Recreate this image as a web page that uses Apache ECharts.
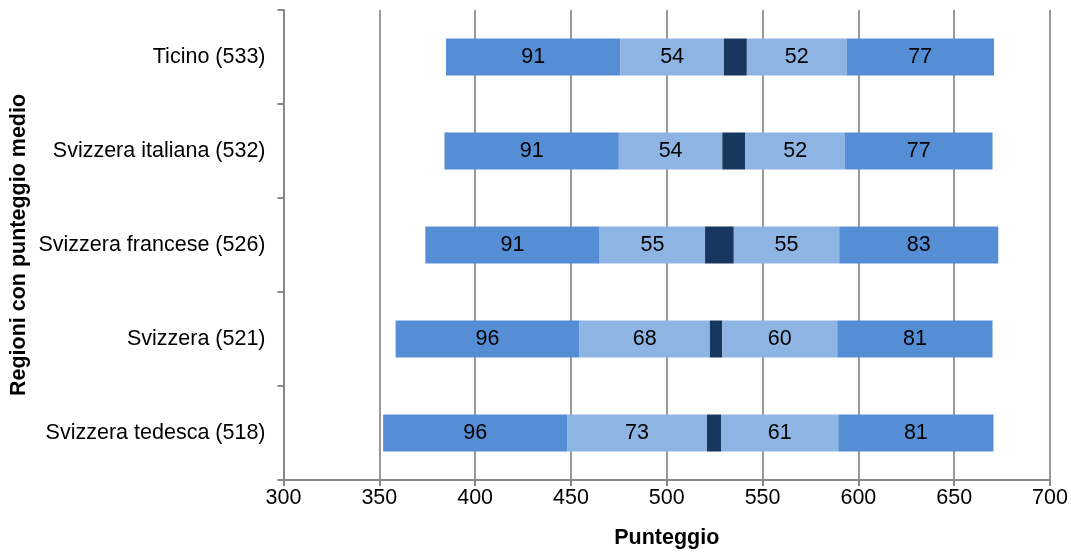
<!DOCTYPE html>
<html>
<head>
<meta charset="utf-8">
<script src="https://cdn.jsdelivr.net/npm/echarts@6/dist/echarts.min.js"></script>
<style>html,body{margin:0;padding:0;background:#fff;}#c{width:1071px;height:552px;}</style>
</head>
<body>
<div id="c"></div>
<script>
const categories = ["Ticino (533)", "Svizzera italiana (532)", "Svizzera francese (526)", "Svizzera (521)", "Svizzera tedesca (518)"];
const offsetVals = [384.8, 384, 374, 358.5, 352];
const lowOuter   = [91, 91, 91, 96, 96];
const lowInner   = [54, 54, 55, 68, 73];
const ciBand     = [12, 12, 15, 6.5, 7.5];
const highInner  = [52, 52, 55, 60, 61];
const highOuter  = [77, 77, 83, 81, 81];
const xTicks = [300, 350, 400, 450, 500, 550, 600, 650, 700];

const FONT = 'Liberation Sans, Arial, sans-serif';
const FS = 21.5;
const dark = '#17375E', mid = '#558ED5', light = '#8EB4E3';
const lbl = { show: true, position: 'inside', color: '#000', fontSize: FS, fontFamily: FONT };

function seg(name, data, color, withLabel) {
  return {
    name, type: 'bar', stack: 's', data, barWidth: 37,
    itemStyle: { color },
    label: withLabel ? lbl : { show: false },
    emphasis: { disabled: true }, silent: true
  };
}

const chart = echarts.init(document.getElementById('c'));
chart.setOption({
  animation: false,
  grid: { left: 283.5, right: 21, top: 10, bottom: 72, containLabel: false, outerBoundsMode: 'none' },
  xAxis: {
    type: 'value', min: xTicks[0], max: xTicks[xTicks.length - 1], interval: 50,
    name: 'Punteggio', nameLocation: 'middle', nameGap: 47,
    nameTextStyle: { fontFamily: FONT, fontSize: FS, fontWeight: 'bold', color: '#000' },
    axisLine: { show: true, lineStyle: { color: '#888', width: 2 } },
    axisTick: { show: true, length: 6, lineStyle: { color: '#888', width: 2 } },
    axisLabel: { fontFamily: FONT, fontSize: FS, color: '#000', margin: 7 },
    splitLine: { show: true, lineStyle: { color: '#999', width: 2 } }
  },
  yAxis: {
    type: 'category', data: categories, inverse: true,
    name: 'Regioni con punteggio medio', nameLocation: 'middle', nameGap: 253, nameMoveOverlap: false,
    nameTextStyle: { fontFamily: FONT, fontSize: FS, fontWeight: 'bold', color: '#000' },
    axisLine: { show: true, lineStyle: { color: '#888', width: 2 } },
    axisTick: { show: true, length: 6, lineStyle: { color: '#888', width: 2 } },
    axisLabel: { fontFamily: FONT, fontSize: FS, color: '#000', margin: 18 },
    splitLine: { show: false }
  },
  series: [
    seg('offset', offsetVals, 'rgba(0,0,0,0)', false),
    seg('lowOuter', lowOuter, mid, true),
    seg('lowInner', lowInner, light, true),
    seg('ci', ciBand, dark, false),
    seg('highInner', highInner, light, true),
    seg('highOuter', highOuter, mid, true)
  ]
});
</script>
</body>
</html>
